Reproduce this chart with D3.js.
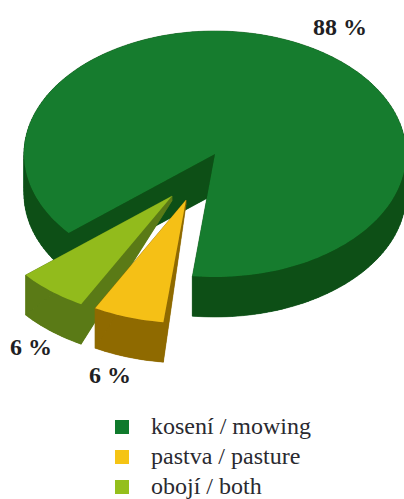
<!DOCTYPE html>
<html><head><meta charset="utf-8">
<script src="https://cdnjs.cloudflare.com/ajax/libs/d3/7.8.5/d3.min.js"></script>
<style>html,body{margin:0;padding:0;background:#fff}svg{display:block}</style>
</head><body><svg id="c" width="404" height="499"></svg>
<script>
const categories = ["kosení / mowing", "pastva / pasture", "obojí / both"];
const values = [88, 6, 6];
const labels = ["88 %", "6 %", "6 %"];
const topColors = ["#167c2d", "#f5c018", "#92bb1c"];
const sideColors = ["#0a5016", "#8f6a05", "#5a7a14"];
const explodeX = [0, -29, -43];
const explodeY = [0, 46, 42];
const tipDepth = [1, 0.12, 0.12];
const labelX = [340, 110, 31];
const labelY = [35, 383, 355];
const legendY = [427, 457, 487];

const cx = 215, cy = 154, rx = 191, ry = 123, depth = 40;
const svg = d3.select("#c");
svg.append("defs").append("filter").attr("id","soft").append("feGaussianBlur").attr("stdDeviation",0.5);

// pie angles run clockwise from the bottom of the ellipse, towards the left
const start = 6.8 * Math.PI / 180;
const pie = d3.pie().sort(null).value(d => d).startAngle(start).endAngle(start + 2 * Math.PI);
const order = [1, 2, 0];
const arcs = pie(order.map(i => values[i]));
const sliceByIdx = {};
order.forEach((idx, k) => sliceByIdx[idx] = arcs[k]);

function pt(i, a, r, z) {
  const dz = z * depth * (tipDepth[i] + (1 - tipDepth[i]) * r);
  return [cx + explodeX[i] - rx * r * Math.sin(a), cy + explodeY[i] + ry * r * Math.cos(a) + dz];
}
function outline(i) {
  const s = sliceByIdx[i];
  const n = Math.max(4, Math.ceil((s.endAngle - s.startAngle) / 0.03));
  const aa = d3.range(n + 1).map(k => s.startAngle + (s.endAngle - s.startAngle) * k / n);
  return [[0, 0]].concat(aa.map(a => [a, 1]));
}
const line = d3.line();
const g = svg.append("g").attr("filter","url(#soft)");
function drawSlice(i) {
  const o = outline(i);
  const gs = g.append("g");
  const closed = o.concat([o[0]]);
  const quads = d3.pairs(closed).map(([p, q]) => [
    pt(i, p[0], p[1], 0), pt(i, q[0], q[1], 0), pt(i, q[0], q[1], 1), pt(i, p[0], p[1], 1)
  ]);
  gs.selectAll("path.side").data(quads).join("path").attr("class","side")
    .attr("d", d => line(d) + "Z").attr("fill", sideColors[i]).attr("stroke", sideColors[i]).attr("stroke-width",0.5);
  gs.append("path").attr("d", line(o.map(p => pt(i, p[0], p[1], 1))) + "Z").attr("fill", sideColors[i]);
  gs.append("path").attr("d", line(o.map(p => pt(i, p[0], p[1], 0))) + "Z").attr("fill", topColors[i]);
}
[0, 2, 1].forEach(drawSlice);

const font = '"Liberation Serif", serif';
svg.selectAll("text.val").data(labels).join("text").attr("class","val")
  .attr("x",(d,i)=>labelX[i]).attr("y",(d,i)=>labelY[i]).attr("text-anchor","middle")
  .attr("font-family",font).attr("font-weight","bold").attr("font-size",24).attr("fill","#1f1f24")
  .text(d=>d);
const legendColors = ["#0f7a2c", "#f5c414", "#94bf1c"];
svg.selectAll("rect.lg").data(categories).join("rect").attr("class","lg")
  .attr("x",115).attr("y",(d,i)=>legendY[i]-7).attr("width",14).attr("height",14)
  .attr("fill",(d,i)=>legendColors[i]);
svg.selectAll("text.lg").data(categories).join("text").attr("class","lg")
  .attr("x",151).attr("y",(d,i)=>legendY[i]+7).attr("font-family",font).attr("font-size",24)
  .attr("fill","#2a2a30").text(d=>d);
</script></body></html>
